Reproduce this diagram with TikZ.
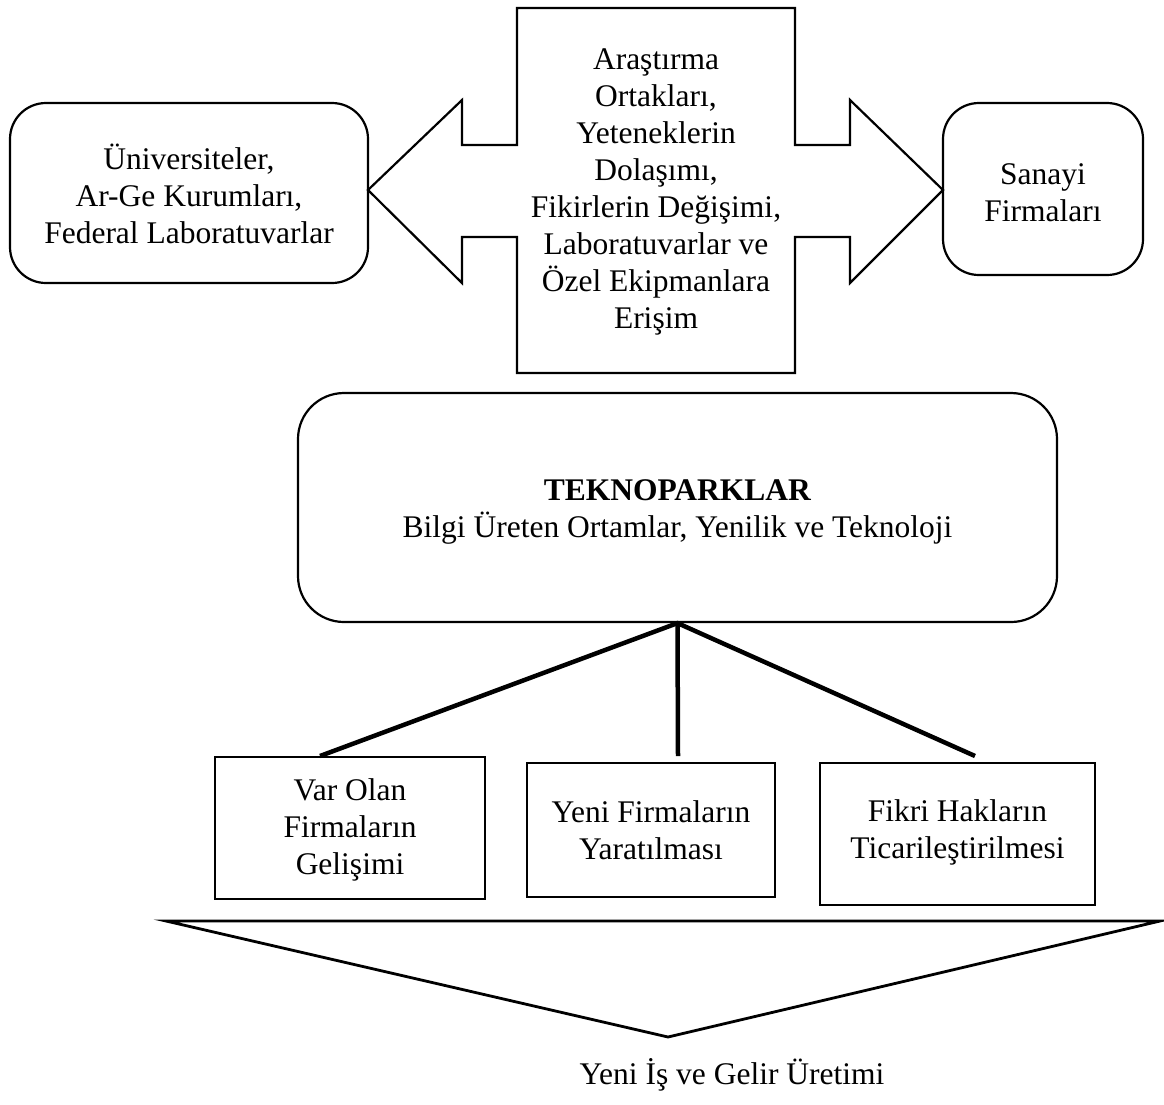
\documentclass[tikz,border=0pt]{standalone}
\usepackage{fontspec}
\setmainfont{Liberation Serif}
\usetikzlibrary{calc}
\begin{document}
\begin{tikzpicture}[x=1pt,y=-1pt,
  every node/.style={font=\fontsize{31.5}{37}\selectfont, align=center, inner sep=0pt},
  rbox/.style={draw, line width=2.2pt, rounded corners=36pt},
  sbox/.style={draw, line width=2.2pt},
  outline/.style={draw, line width=2.2pt, line join=miter},
  conn/.style={line width=4.5pt}]
\useasboundingbox (0,0) rectangle (1164,1104);
% top row
\node[rbox, minimum width=358pt, minimum height=180pt] (uni) at (189,193) {};
\node at (189,194) {Üniversiteler,\\Ar-Ge Kurumları,\\Federal Laboratuvarlar};
\node[rbox, minimum width=200pt, minimum height=172pt] (san) at (1043,189) {};
\node at (1043,193) {Sanayi\\Firmaları};
% double arrow
\draw[outline] (517,8) -- (795,8) -- (795,145) -- (850,145) -- (850,100) -- (943,190)
  -- (850,283) -- (850,237) -- (795,237) -- (795,373) -- (517,373) -- (517,237)
  -- (462,237) -- (462,283) -- (368,190) -- (462,100) -- (462,145) -- (517,145) -- cycle;
\node (mid) at (656,192) {Araştırma\\Ortakları,\\Yeteneklerin\\Dolaşımı,\\Fikirlerin Değişimi,\\Laboratuvarlar ve\\Özel Ekipmanlara\\Erişim};
% teknopark
\node[rbox, rounded corners=46pt, minimum width=759pt, minimum height=229pt] (tek) at (677.5,507.5) {};
\node at (677.5,512) {\textbf{TEKNOPARKLAR}\\Bilgi Üreten Ortamlar, Yenilik ve Teknoloji};
% lower boxes
\node[sbox, minimum width=270pt, minimum height=142pt] (b1) at (350,828) {};
\node at (350,830) {Var Olan\\Firmaların\\Gelişimi};
\node[sbox, minimum width=248pt, minimum height=134pt] (b2) at (651,830) {};
\node at (651,830) {Yeni Firmaların\\Yaratılması};
\node[sbox, minimum width=275pt, minimum height=142pt] (b3) at (957.5,834) {};
\node at (957.5,832) {Fikri Hakların\\Ticarileştirilmesi};
% connectors
\coordinate (e1) at (320,756);
\coordinate (e2) at (678,756);
\coordinate (e3) at (975,756);
\draw[conn, line join=miter] (e1) -- (tek.south) -- (e3);
\draw[conn] (tek.south) -- (e2);
% triangle
\coordinate (tl) at (166,921);
\coordinate (tr) at (1160,921);
\coordinate (tb) at (668,1037);
\draw[line width=2.8pt, line join=miter] (tl) -- (tr) -- (tb) -- cycle;
\node (res) at (732,1075) {Yeni İş ve Gelir Üretimi};
\end{tikzpicture}
\end{document}
